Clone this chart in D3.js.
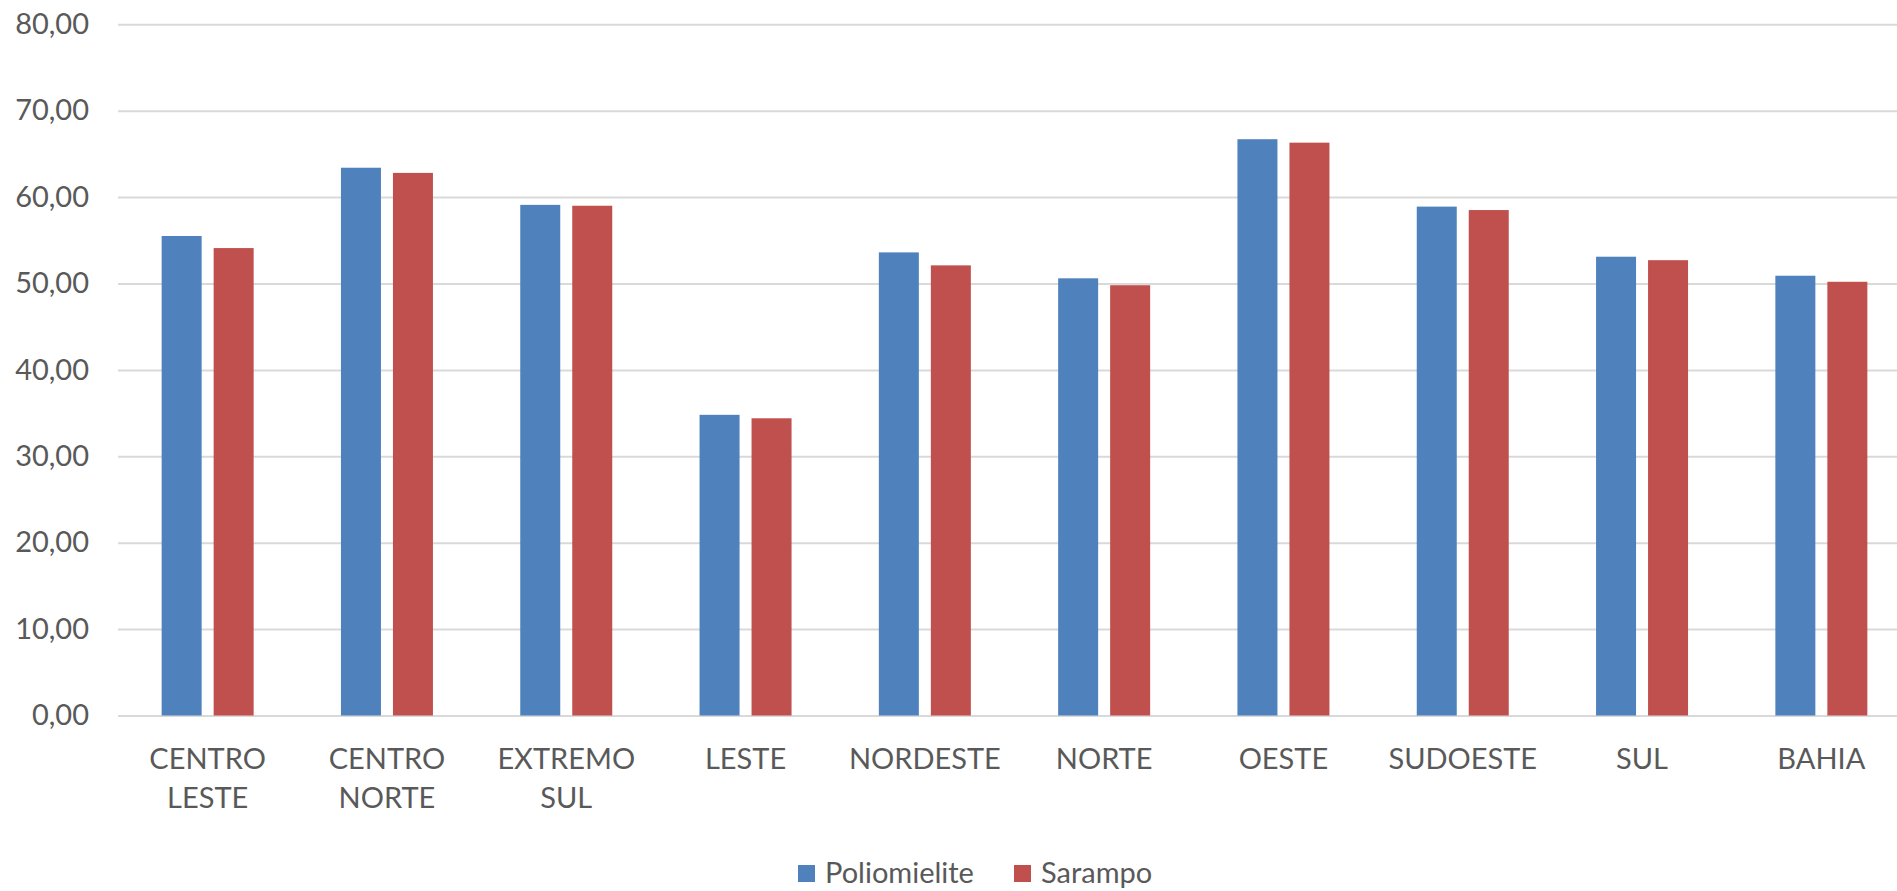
<!DOCTYPE html>
<html>
<head>
<meta charset="utf-8">
<script src="https://cdn.jsdelivr.net/npm/d3@7"></script>
<style>
  body { margin: 0; background: #fff; }
  text { font-family: Lato, 'Open Sans', sans-serif; fill: #595959; }
</style>
</head>
<body>
<script>
// data
var categories = ['CENTRO LESTE', 'CENTRO NORTE', 'EXTREMO SUL', 'LESTE', 'NORDESTE',
                  'NORTE', 'OESTE', 'SUDOESTE', 'SUL', 'BAHIA']
var labelLines = [['CENTRO', 'LESTE'], ['CENTRO', 'NORTE'], ['EXTREMO', 'SUL'], ['LESTE'], ['NORDESTE'],
                  ['NORTE'], ['OESTE'], ['SUDOESTE'], ['SUL'], ['BAHIA']]
var seriesNames = ['Poliomielite', 'Sarampo']
var poliomielite = [55.5, 63.4, 59.1, 34.8, 53.6, 50.6, 66.7, 58.9, 53.1, 50.9]
var sarampo = [54.1, 62.8, 59.0, 34.4, 52.1, 49.8, 66.3, 58.5, 52.7, 50.2]
var yTicks = [0, 10, 20, 30, 40, 50, 60, 70, 80]
var colors = ['#4F81BD', '#C0504D']

var w = 1897, h = 891

var svg = d3.select('body').append('svg')
    .attr('width', w)
    .attr('height', h)

// scales
var y = d3.scaleLinear().domain([0, 80]).range([715.5, 24.3])
var x0 = d3.scaleBand().domain(categories).range([118, 1911])
var groupW = 92
var x1 = d3.scaleBand().domain(seriesNames).range([0, groupW]).paddingInner(12 / 52)

var fmt = function(v) { return d3.format('.2f')(v).replace('.', ',') }

// gridlines + y labels
var yAxis = d3.axisLeft(y).tickValues(yTicks).tickSize(-(1897 - 118)).tickFormat(fmt).tickPadding(29)
var gy = svg.append('g')
    .attr('transform', 'translate(118,0)')
    .call(yAxis)
gy.select('.domain').remove()
gy.selectAll('.tick line').attr('stroke', '#D9D9D9').attr('stroke-width', 2)
gy.selectAll('.tick text')
    .style('font-size', '29px')
    .attr('fill', '#595959')

// bars
var rows = categories.map(function(c, i) {
    return { cat: c, values: [poliomielite[i], sarampo[i]] }
})

var groups = svg.selectAll('.group')
    .data(rows)
    .enter()
    .append('g')
    .attr('class', 'group')
    .attr('transform', function(d) {
        return 'translate(' + (x0(d.cat) + (x0.bandwidth() - groupW) / 2) + ',0)'
    })

groups.selectAll('rect')
    .data(function(d) {
        return d.values.map(function(v, j) { return { name: seriesNames[j], value: v, j: j } })
    })
    .enter()
    .append('rect')
    .attr('x', function(d) { return x1(d.name) })
    .attr('width', x1.bandwidth())
    .attr('y', function(d) { return y(d.value) })
    .attr('height', function(d) { return y(0) - y(d.value) })
    .attr('fill', function(d) { return colors[d.j] })

// category labels
var lbl = svg.selectAll('.cat-label')
    .data(categories)
    .enter()
    .append('text')
    .attr('class', 'cat-label')
    .attr('text-anchor', 'middle')
    .style('font-size', '29px')
    .attr('x', function(d) { return x0(d) + x0.bandwidth() / 2 })
    .attr('y', 769)

lbl.selectAll('tspan')
    .data(function(d, i) { return labelLines[i] })
    .enter()
    .append('tspan')
    .attr('x', function() { return d3.select(this.parentNode).attr('x') })
    .attr('dy', function(d, i) { return i == 0 ? 0 : 39 })
    .text(function(d) { return d })

// legend
var legendX = [798, 1014]
var legend = svg.selectAll('.legend')
    .data(seriesNames)
    .enter()
    .append('g')
    .attr('class', 'legend')
    .attr('transform', function(d, i) { return 'translate(' + legendX[i] + ',865)' })

legend.append('rect')
    .attr('width', 17)
    .attr('height', 17)
    .attr('fill', function(d, i) { return colors[i] })

legend.append('text')
    .attr('x', 27)
    .attr('y', 18)
    .style('font-size', '29px')
    .text(function(d) { return d })
</script>
</body>
</html>
